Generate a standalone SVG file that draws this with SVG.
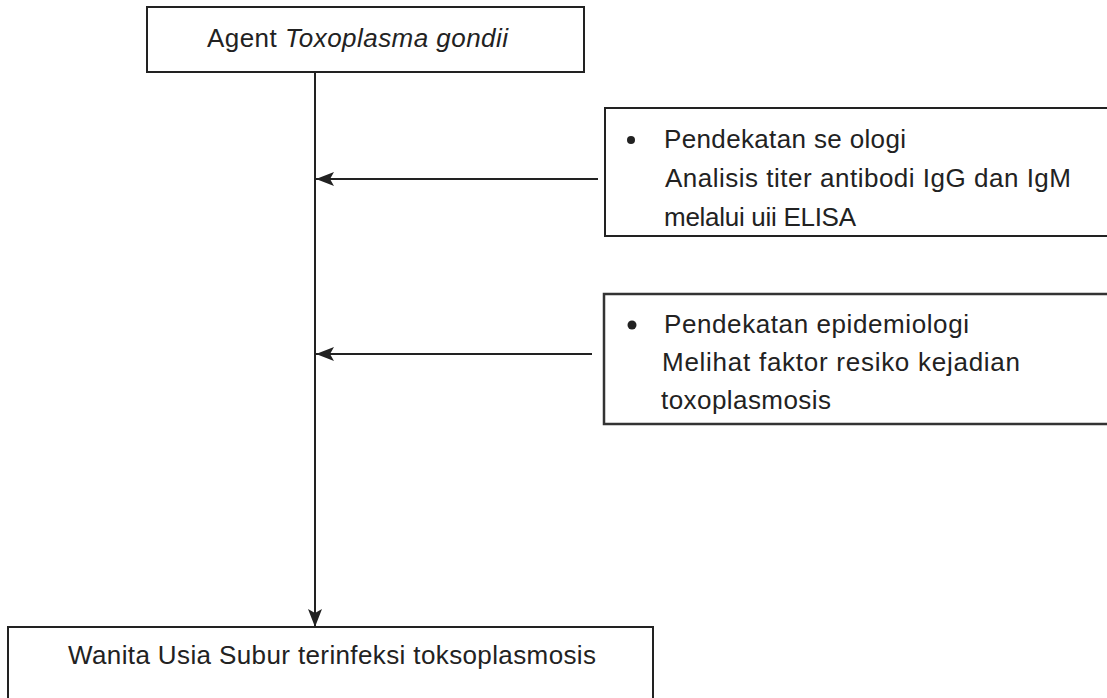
<svg xmlns="http://www.w3.org/2000/svg" width="1107" height="698" viewBox="0 0 1107 698">
  <defs>
    <marker id="arrow" markerUnits="userSpaceOnUse" markerWidth="20" markerHeight="16" refX="18" refY="7" orient="auto">
      <path d="M0,0 L18,7 L0,14 L4,7 Z" fill="#222"/>
    </marker>
    <style>
      .box { fill: #fff; stroke: #222; stroke-width: 2; }
      .box2 { fill: #fff; stroke: #333; stroke-width: 2.5; }
      .lbl { font-family: "Liberation Sans", Arial, sans-serif; font-size: 26px; fill: #222; }
      .conn { stroke: #222; stroke-width: 2; fill: none; }
      .dot { fill: #222; }
    </style>
  </defs>
  <rect width="1107" height="698" fill="#fff"/>

  <g id="connectors">
    <line class="conn" x1="315" y1="72" x2="315" y2="627" marker-end="url(#arrow)"/>
    <line class="conn" x1="598" y1="179" x2="316" y2="179" marker-end="url(#arrow)"/>
    <line class="conn" x1="592" y1="354" x2="316" y2="354" marker-end="url(#arrow)"/>
  </g>

  <g id="node-agent">
    <rect class="box" x="147" y="7" width="437" height="65"/>
    <text class="lbl" x="207" y="47" textLength="301" lengthAdjust="spacing">Agent <tspan font-style="italic">Toxoplasma gondii</tspan></text>
  </g>

  <g id="node-serologi">
    <path class="box" d="M1112,108 L605,108 L605,236 L1112,236"/>
    <circle class="dot" cx="631" cy="140" r="4"/>
    <text class="lbl" x="664" y="148" textLength="242" lengthAdjust="spacing">Pendekatan se ologi</text>
    <text class="lbl" x="665" y="187" textLength="406" lengthAdjust="spacing">Analisis titer antibodi IgG dan IgM</text>
    <text class="lbl" x="664" y="226" textLength="192" lengthAdjust="spacing">melalui uii ELISA</text>
  </g>

  <g id="node-epidemiologi">
    <path class="box2" d="M1112,294 L604,294 L604,424 L1112,424"/>
    <circle class="dot" cx="632" cy="325" r="4.5"/>
    <text class="lbl" x="664" y="333" textLength="305" lengthAdjust="spacing">Pendekatan epidemiologi</text>
    <text class="lbl" x="662" y="371" textLength="358" lengthAdjust="spacing">Melihat faktor resiko kejadian</text>
    <text class="lbl" x="661" y="409" textLength="170" lengthAdjust="spacing">toxoplasmosis</text>
  </g>

  <g id="node-wanita">
    <path class="box" d="M8,703 L8,627 L653,627 L653,703"/>
    <text class="lbl" x="68" y="664" textLength="528" lengthAdjust="spacing">Wanita Usia Subur terinfeksi toksoplasmosis</text>
  </g>
</svg>
